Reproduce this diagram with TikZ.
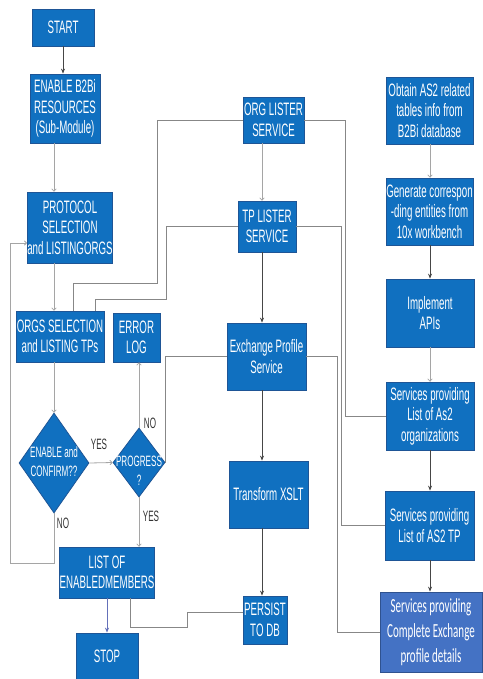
\documentclass[tikz,border=0pt]{standalone}
\usepackage{fontspec}
\setmainfont{Liberation Sans}
\newfontfamily\boxfont[FakeStretch=0.54]{Liberation Sans}
\newfontfamily\calfont[FakeStretch=0.55]{Carlito}
\usetikzlibrary{shapes.geometric,arrows.meta,calc}
\definecolor{boxblue}{RGB}{16,112,192}
\definecolor{boxedge}{RGB}{30,85,150}
\definecolor{lastblue}{RGB}{68,114,196}
\definecolor{lastedge}{RGB}{47,82,143}
\definecolor{lineg}{RGB}{135,135,135}
\definecolor{lightg}{RGB}{165,165,165}
\definecolor{darkl}{RGB}{70,70,70}
\definecolor{stopl}{RGB}{100,112,185}
\begin{document}
\begin{tikzpicture}[x=1pt,y=-1pt,
  box/.style={rectangle, fill=boxblue, draw=boxedge, line width=0.8pt, inner sep=0pt,
    text=white, align=center, font=\boxfont\fontsize{18}{20.5}\selectfont},
  lastbox/.style={rectangle, fill=lastblue, draw=lastedge, line width=0.8pt, inner sep=0pt,
    text=white, align=center, font=\calfont\fontsize{20}{25}\selectfont},
  dia/.style={diamond, fill=boxblue, draw=boxedge, line width=0.8pt, inner sep=0pt},
  dtext/.style={text=white, align=center, inner sep=0pt, font=\boxfont\fontsize{15}{19}\selectfont},
  lbl/.style={text=black!80, inner sep=0pt, font=\boxfont\fontsize{15}{16}\selectfont},
  darrow/.style={draw=darkl, line width=0.7pt, -{Stealth[length=5pt,width=4pt]}},
  garrow/.style={draw=lightg, line width=0.8pt, -{To[length=3pt,width=5pt]}},
  sarrow/.style={draw=stopl, line width=0.8pt, -{Stealth[length=5pt,width=4pt]}},
  conn/.style={draw=lineg, line width=0.8pt}
]
\useasboundingbox (0,0) rectangle (482,679);
\fill[white] (0,0) rectangle (482,679);

% left column
\node[box, minimum width=62pt, minimum height=37pt] (start) at (63,27.5) {START};
\node[box, minimum width=70pt, minimum height=69pt] (enable) at (65,108.5) {ENABLE B2Bi\\RESOURCES\\(Sub-Module)};
\node[box, minimum width=84pt, minimum height=71pt] (protocol) at (70,227.5) {PROTOCOL\\SELECTION\\and LISTINGORGS};
\node[box, minimum width=88pt, minimum height=51pt] (orgs) at (60,336.5) {ORGS SELECTION\\and LISTING TPs};
\node[box, minimum width=47pt, minimum height=49pt] (errlog) at (136.5,337.5) {ERROR\\LOG};
\node[dia, minimum width=70pt, minimum height=100pt] (confirm) at (54,463) {};
\node[dtext] (confirmtxt) at (54,462) {ENABLE and\\CONFIRM??};
\node[dia, minimum width=52pt, minimum height=69pt] (progress) at (139,462.5) {};
\node[dtext] (progtxt) at (139,471) {PROGRESS\\?};
\node[box, minimum width=92pt, minimum height=51pt] (list) at (107,572.5) {LIST OF\\ENABLEDMEMBERS};
\node[box, minimum width=62pt, minimum height=46pt] (stop) at (107,656) {STOP};

% middle column
\node[box, minimum width=61pt, minimum height=46pt] (orglister) at (273.5,120) {ORG LISTER\\SERVICE};
\node[box, minimum width=58pt, minimum height=51pt] (tplister) at (267,226.5) {TP LISTER\\SERVICE};
\node[box, minimum width=79pt, minimum height=67pt] (exchange) at (266.5,356.5) {Exchange Profile\\Service};
\node[box, minimum width=79pt, minimum height=67pt] (transform) at (268.5,494.5) {Transform XSLT};
\node[box, minimum width=44pt, minimum height=48pt] (persist) at (265,620) {PERSIST\\TO DB};

% right column
\node[box, minimum width=87pt, minimum height=67pt] (obtain) at (429.5,110.5) {Obtain AS2 related\\tables info from\\B2Bi database};
\node[box, minimum width=87pt, minimum height=67pt] (generate) at (429.5,211.5) {Generate correspon\\-ding entities from\\10x workbench};
\node[box, minimum width=88pt, minimum height=68pt] (implement) at (430,313) {Implement\\APIs};
\node[box, minimum width=88pt, minimum height=68pt] (svcorgs) at (430,416) {Services providing\\List of As2\\organizations};
\node[box, minimum width=89pt, minimum height=69pt] (svctp) at (429.5,525.5) {Services providing\\List of AS2 TP};
\node[lastbox, minimum width=102pt, minimum height=80pt] (svcall) at (431,632) {Services providing\\Complete Exchange\\profile details};

% labels
\node[lbl] (yes1) at (99,444) {YES};
\node[lbl] (no1) at (150,423) {NO};
\node[lbl] (yes2) at (151,516) {YES};
\node[lbl] (no2) at (63,523) {NO};

% helper coordinates
\coordinate (lcol) at (54,0);
\coordinate (mcol) at (262,0);
\coordinate (rcol) at (430,0);
\coordinate (loopy) at (10,243);
\coordinate (c1) at (157,283);
\coordinate (c2) at (166,299);
\coordinate (c3) at (345,0);
\coordinate (c4) at (341,0);
\coordinate (c5) at (337,0);
\coordinate (c6) at (187,612);

% left column connectors
\draw[darrow] (start.south) -- (start.south |- enable.north);
\draw[garrow] (enable.south -| lcol) -- (protocol.north -| lcol);
\draw[garrow] (protocol.south -| lcol) -- (orgs.north -| lcol);
\draw[garrow] (orgs.south -| lcol) -- (confirm.north);
\draw[garrow] (confirm.east) -- (progress.west);
\draw[garrow] (progress.north) -- (progress.north |- errlog.south);
\draw[garrow] (progress.south) -- (progress.south |- list.north);
\draw[sarrow] (list.south) -- (stop.north);
\draw[garrow] (confirm.south) -- ++(0,50) -| (loopy) -- (loopy -| protocol.west);

% cross connectors
\draw[conn] (orglister.west) -| (c1) -| ($(orgs.north)+(13,0)$);
\draw[conn] (tplister.west) -| (c2) -| ($(orgs.north)+(35,0)$);
\draw[conn] (orglister.east) -| (c3 |- svcorgs.west) -- (svcorgs.west);
\draw[conn] (tplister.east) -| (c4 |- svctp.west) -- (svctp.west);
\draw[conn] (exchange.east) -| (c5 |- svcall.west) -- (svcall.west);
\draw[conn] (exchange.west) -| (progress.east);
\draw[conn] ($(list.south)+(23,0)$) -- ++(0,29) -| (c6) -- (c6 -| persist.west);

% middle column connectors
\draw[garrow] (orglister.south -| mcol) -- (tplister.north -| mcol);
\draw[darrow] (tplister.south -| mcol) -- (exchange.north -| mcol);
\draw[darrow] (exchange.south -| mcol) -- (transform.north -| mcol);
\draw[darrow] (transform.south -| mcol) -- (persist.north -| mcol);

% right column connectors
\draw[garrow] (obtain.south -| rcol) -- (generate.north -| rcol);
\draw[darrow] (generate.south -| rcol) -- (implement.north -| rcol);
\draw[garrow] (implement.south -| rcol) -- (svcorgs.north -| rcol);
\draw[darrow] (svcorgs.south -| rcol) -- (svctp.north -| rcol);
\draw[darrow] (svctp.south -| rcol) -- (svcall.north -| rcol);
\end{tikzpicture}
\end{document}
